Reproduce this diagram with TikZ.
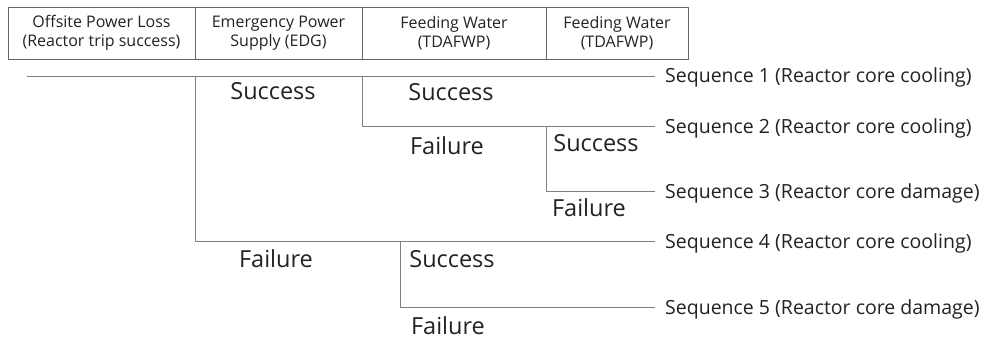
\documentclass[tikz,border=0pt]{standalone}
\usepackage{fontspec}
\setmainfont{Open Sans}
\definecolor{inkgray}{HTML}{222222}
\definecolor{linegray}{HTML}{7F7F7F}
\tikzset{
  headcell/.style={draw=linegray!80!black, line width=0.8pt, align=center, inner sep=0pt,
    minimum height=52pt, text=inkgray, font=\fontsize{16}{19}\selectfont},
  branch/.style={draw=linegray, line width=1pt},
  outcome/.style={text=inkgray, font=\fontsize{23.5}{26}\selectfont, inner sep=0pt},
  seqlabel/.style={anchor=west, text=inkgray, font=\fontsize{19.5}{22}\selectfont, inner sep=0pt, xshift=10pt}
}
\begin{document}
\begin{tikzpicture}[x=1pt, y=-1pt, line join=round]
\useasboundingbox (0,0) rectangle (985,340);
% header
\node[headcell, minimum width=187pt] (h1) at (101.5,33) {Offsite Power Loss\\(Reactor trip success)};
\node[headcell, minimum width=167pt] (h2) at (278.5,33) {Emergency Power\\Supply (EDG)};
\node[headcell, minimum width=184pt] (h3) at (454,33) {Feeding Water\\(TDAFWP)};
\node[headcell, minimum width=142pt] (h4) at (617,33) {Feeding Water\\(TDAFWP)};
% branch points
\coordinate (start) at (27,76);
\coordinate (b1) at (195,76);
\coordinate (b2) at (362,76);
\coordinate (b3) at (546,126);
\coordinate (b4) at (400,241);
% end states
\node[seqlabel] (s1) at (655,77) {Sequence 1 (Reactor core cooling)};
\node[seqlabel] (s2) at (655,128) {Sequence 2 (Reactor core cooling)};
\node[seqlabel] (s3) at (655,193) {Sequence 3 (Reactor core damage)};
\node[seqlabel] (s4) at (655,243) {Sequence 4 (Reactor core cooling)};
\node[seqlabel] (s5) at (655,309) {Sequence 5 (Reactor core damage)};
\coordinate (e1) at (655,76);
\coordinate (e2) at (655,126);
\coordinate (e3) at (655,191);
\coordinate (e4) at (655,241);
\coordinate (e5) at (655,307);
\draw[branch] (start) -- (e1);
\draw[branch] (b2) |- (e2);
\draw[branch] (b3) |- (e3);
\draw[branch] (b1) |- (e4);
\draw[branch] (b4) |- (e5);
% outcomes
\node[outcome] (o1) at (273,91) {Success};
\node[outcome] (o2) at (451,92) {Success};
\node[outcome] (o3) at (447,146) {Failure};
\node[outcome] (o4) at (596,143) {Success};
\node[outcome] (o5) at (589,208) {Failure};
\node[outcome] (o6) at (276,259) {Failure};
\node[outcome] (o7) at (452,259) {Success};
\node[outcome] (o8) at (448,326) {Failure};
\end{tikzpicture}
\end{document}
